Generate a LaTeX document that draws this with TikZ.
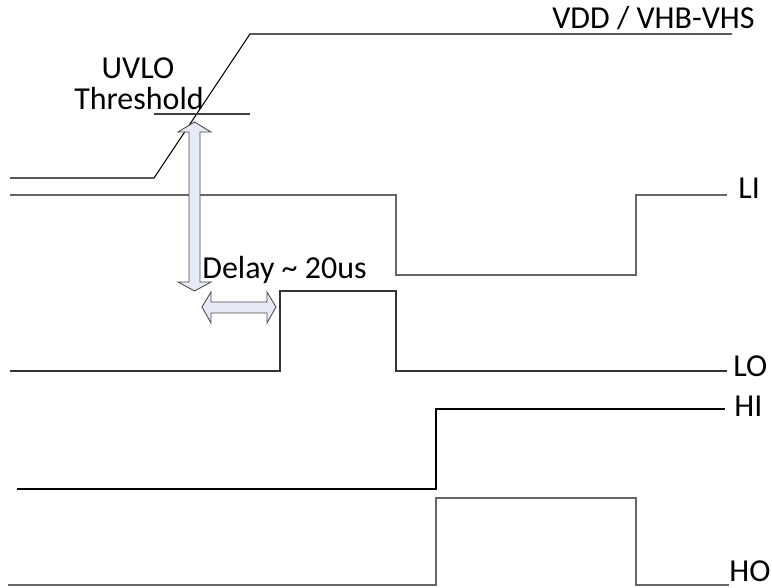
\documentclass[tikz,border=0pt]{standalone}
\usepackage{fontspec}
\setmainfont{Carlito}
\definecolor{arrowfill}{RGB}{230,234,246}
\begin{document}
\begin{tikzpicture}[x=0.02cm,y=-0.02cm,
  wave/.style={line width=0.6pt,black},
  greywave/.style={line width=0.85pt,black!60},
  lbl/.style={inner sep=0pt,anchor=base west,font=\fontsize{18.2}{21}\selectfont},
  blockarrow/.style={draw=black!70,fill=arrowfill,line width=0.5pt,line join=miter}]
\useasboundingbox (0,0) rectangle (772,588);
% supply ramp and threshold
\draw[wave] (10,178) -- (154,178) -- (250,34) -- (732,34);
\draw[line width=0.6pt,black!75] (154,114) -- (250,114);
\node[lbl] (vdd) at (552,29) {VDD / VHB-VHS};
\node[lbl,anchor=base] (uvlo) at (138,79) {UVLO};
\node[lbl,anchor=base] (thr) at (139,110) {Threshold};
% inputs and outputs
\draw[greywave] (10,195) -- (396,195) -- (396,275) -- (636,275) -- (636,195) -- (727,195);
\node[lbl] (li) at (738,199) {LI};
\draw[wave,black!80] (10,371) -- (280,371) -- (280,291) -- (396,291) -- (396,371) -- (727,371);
\node[lbl] (lo) at (733,377) {LO};
\draw[wave] (17,489) -- (436,489) -- (436,409) -- (725,409);
\node[lbl] (hi) at (734,417) {HI};
\draw[greywave] (8,585) -- (436,585) -- (436,498) -- (636,498) -- (636,585) -- (729,585);
\node[lbl] (ho) at (729,582) {HO};
% UVLO to output delay arrows
\draw[blockarrow] (194.5,122) -- (211,132) -- (200,132) -- (200,282) -- (211,282) -- (194.5,291)
  -- (178,282) -- (189,282) -- (189,132) -- (178,132) -- cycle;
\draw[blockarrow] (202,307) -- (211,292) -- (211,302) -- (267,302) -- (267,292) -- (276,307)
  -- (267,323) -- (267,313) -- (211,313) -- (211,323) -- cycle;
\node[lbl] (delay) at (202,279) {Delay \textasciitilde{} 20us};
\end{tikzpicture}
\end{document}
